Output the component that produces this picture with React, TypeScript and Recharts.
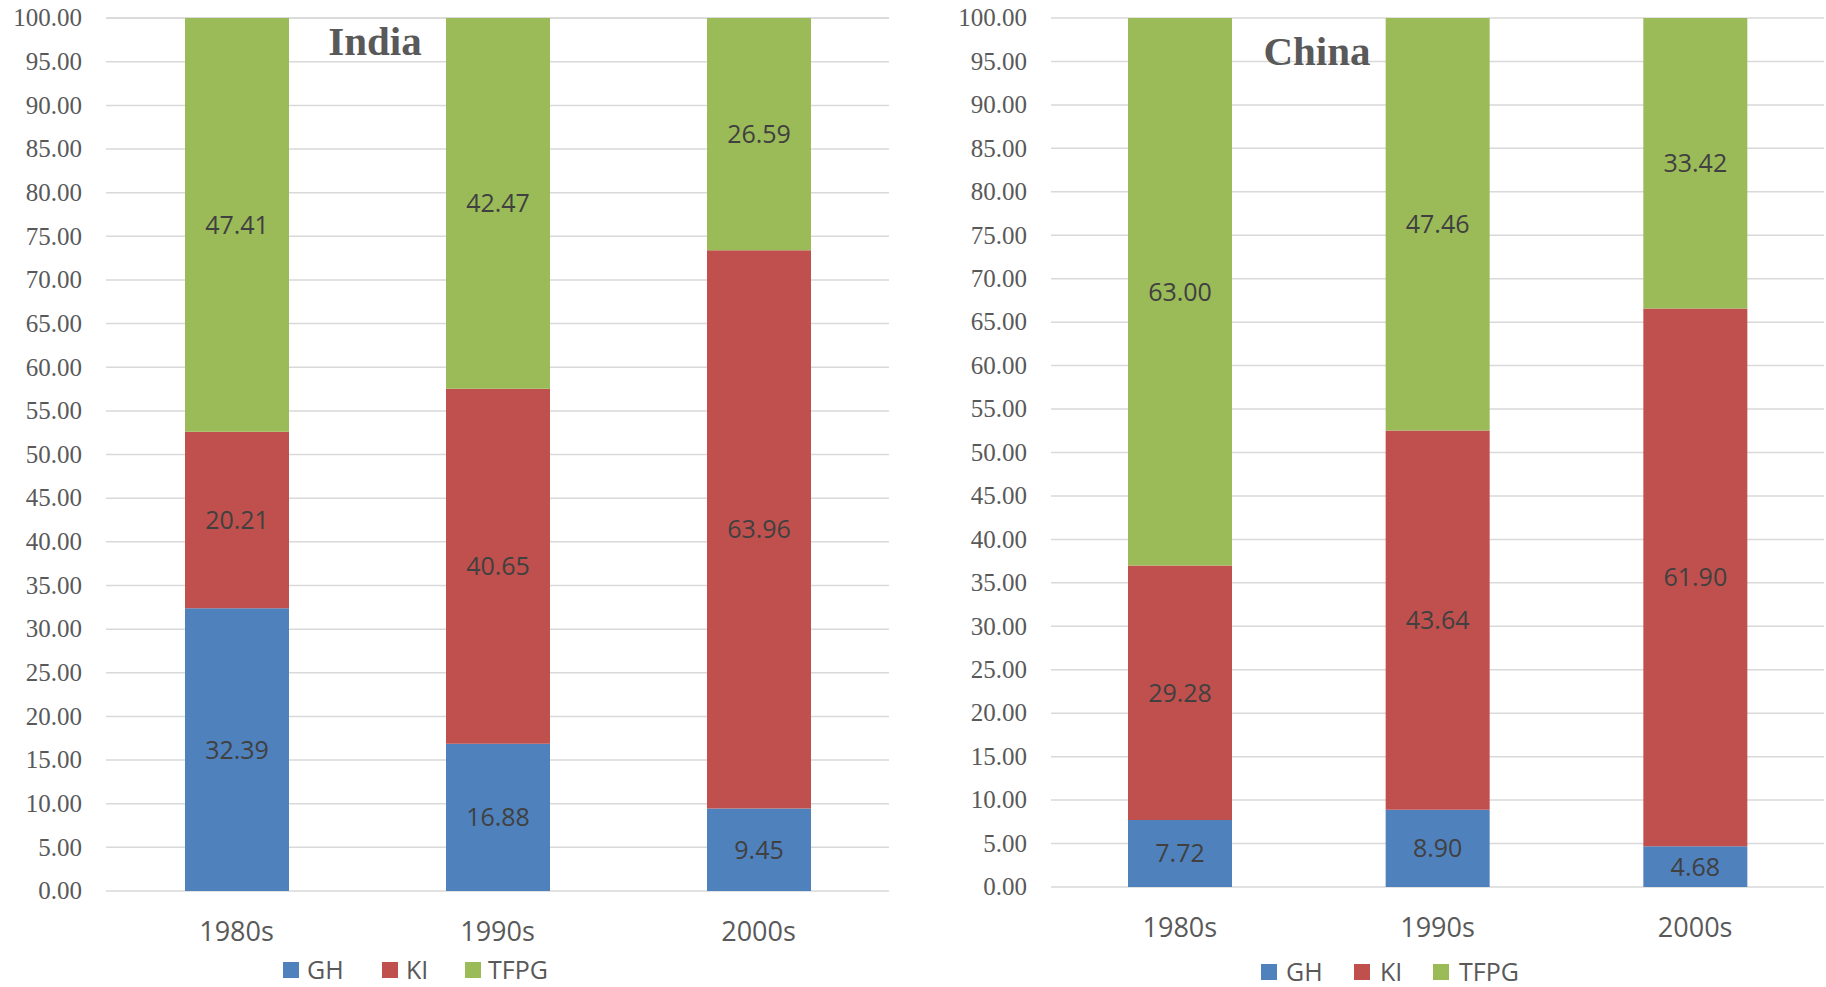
import React from "react";
import { BarChart, Bar, XAxis, YAxis, CartesianGrid, LabelList } from "recharts";

// decades on the x axis
const decades = ["1980s", "1990s", "2000s"];

// growth accounting shares (%) per decade
const indiaGH = [32.39, 16.88, 9.45];
const indiaKI = [20.21, 40.65, 63.96];
const indiaTFPG = [47.41, 42.47, 26.59];

const chinaGH = [7.72, 8.9, 4.68];
const chinaKI = [29.28, 43.64, 61.9];
const chinaTFPG = [63.0, 47.46, 33.42];

const yTicks = [0, 5, 10, 15, 20, 25, 30, 35, 40, 45, 50, 55, 60, 65, 70, 75, 80, 85, 90, 95, 100];

const SERIES = [
  { key: "GH", color: "#4F81BD" },
  { key: "KI", color: "#C0504D" },
  { key: "TFPG", color: "#9BBB59" },
];

const AXIS_GREY = "#595959";
const LABEL_GREY = "#404040";
const SANS = "'Open Sans', sans-serif";
const SERIF = "'Liberation Serif', 'Times New Roman', serif";

function buildRows(gh: number[], ki: number[], tfpg: number[]) {
  return decades.map((name, i) => ({ name, GH: gh[i], KI: ki[i], TFPG: tfpg[i] }));
}

const indiaRows = buildRows(indiaGH, indiaKI, indiaTFPG);
const chinaRows = buildRows(chinaGH, chinaKI, chinaTFPG);

// serif value ticks, right-aligned against the plot
function ValueTick(props: any) {
  const { x, y, payload } = props;
  return (
    <text
      x={x}
      y={y}
      dy="0.33em"
      textAnchor="end"
      fill={AXIS_GREY}
      style={{ fontFamily: SERIF, fontSize: 25 }}
    >
      {Number(payload.value).toFixed(2)}
    </text>
  );
}

interface PanelProps {
  rows: ReturnType<typeof buildRows>;
  left: number;
  width: number;
  axisWidth: number;
  bottom: number;
  right: number;
}

function StackPanel({ rows, left, width, axisWidth, bottom, right }: PanelProps) {
  return (
    <div style={{ position: "absolute", left, top: 0 }}>
      <BarChart
        width={width}
        height={987}
        data={rows}
        margin={{ top: 18, right, bottom, left: 0 }}
      >
        <CartesianGrid vertical={false} stroke="#D9D9D9" strokeWidth={1.5} />
        <XAxis
          dataKey="name"
          axisLine={false}
          tickLine={false}
          tickSize={0}
          tickMargin={31}
          height={50}
          tick={{ fill: AXIS_GREY, fontSize: 27, fontFamily: SANS }}
        />
        <YAxis
          width={axisWidth}
          domain={[0, 100]}
          ticks={yTicks}
          interval={0}
          axisLine={false}
          tickLine={false}
          tickSize={0}
          tickMargin={24}
          tick={(p: any) => <ValueTick {...p} />}
        />
        {SERIES.map((s) => (
          <Bar key={s.key} dataKey={s.key} stackId="a" fill={s.color} barSize={104} isAnimationActive={false}>
            <LabelList
              dataKey={s.key}
              position="center"
              formatter={(v: number) => Number(v).toFixed(2)}
              fill={LABEL_GREY}
              fontSize={25}
              fontFamily={SANS}
            />
          </Bar>
        ))}
      </BarChart>
    </div>
  );
}

function LegendRow({ y, rectX, textX }: { y: number; rectX: number[]; textX: number[] }) {
  return (
    <g>
      {SERIES.map((s, i) => (
        <g key={s.key}>
          <rect x={rectX[i]} y={y - 8} width={16} height={16} fill={s.color} />
          <text x={textX[i]} y={y + 9} fill={AXIS_GREY} fontSize={25} fontFamily={SANS}>
            {s.key}
          </text>
        </g>
      ))}
    </g>
  );
}

export default function App() {
  return (
    <div style={{ position: "absolute", left: 0, top: 0, width: 1826, height: 987, overflow: "hidden", background: "#fff" }}>
      <StackPanel rows={indiaRows} left={0} width={900} axisWidth={106} bottom={46} right={11} />
      <StackPanel rows={chinaRows} left={913} width={913} axisWidth={138} bottom={50} right={2} />
      <svg
        width={1826}
        height={987}
        style={{ position: "absolute", left: 0, top: 0, pointerEvents: "none" }}
      >
        <text x={375} y={55} textAnchor="middle" fill={AXIS_GREY} fontSize={41} fontWeight="bold" fontFamily={SERIF}>
          India
        </text>
        <text x={1317} y={65} textAnchor="middle" fill={AXIS_GREY} fontSize={41} fontWeight="bold" fontFamily={SERIF}>
          China
        </text>
        <LegendRow y={970} rectX={[283, 382, 465]} textX={[307, 406, 488]} />
        <LegendRow y={972} rectX={[1261, 1354, 1433]} textX={[1286, 1380, 1459]} />
      </svg>
    </div>
  );
}
